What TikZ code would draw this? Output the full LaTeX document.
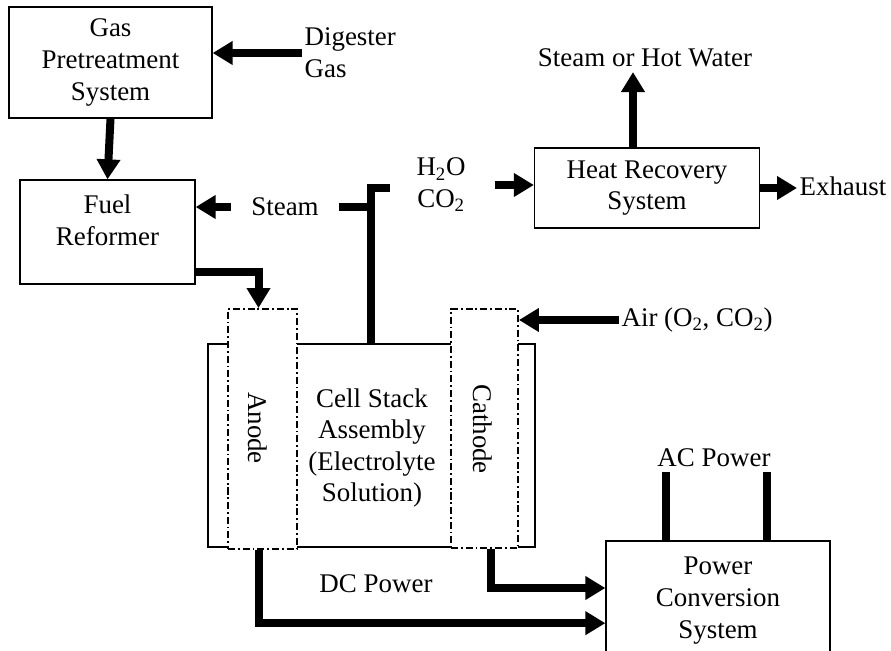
\documentclass[tikz,border=0pt]{standalone}
\usepackage{fontspec}
\setmainfont{Liberation Serif}
\usetikzlibrary{arrows.meta, positioning}

\begin{document}
\begin{tikzpicture}[
    x=0.03cm, y=-0.03cm,
    font=\fontsize{23}{27}\selectfont,
    unit/.style={rectangle, draw, line width=1.1pt, align=center, inner sep=0pt},
    electrode/.style={rectangle, draw, fill=white, line width=1.6pt, inner sep=0pt,
        dash pattern=on 6pt off 2.5pt on 1.5pt off 2.5pt},
    lbl/.style={inner sep=2pt, align=center},
    arrow/.style={-{Triangle[length=0.6cm, width=0.68cm]}, line width=0.24cm},
    pipe/.style={line width=0.22cm}
]
    \useasboundingbox (0,0) rectangle (891,651);

    % process units
    \node[unit, minimum width=6.09cm, minimum height=3.33cm] (gas) at (110.5,62.5) {Gas\\Pretreatment\\System};
    \node[unit, minimum width=5.25cm, minimum height=3.12cm] (reformer) at (107.5,232) {};
    \node[lbl] (reformertxt) at (107.5,220) {Fuel\\Reformer};
    \node[unit, minimum width=6.75cm, minimum height=2.4cm] (heat) at (647,188) {Heat Recovery\\System};
    \node[unit, minimum width=9.81cm, minimum height=6.09cm] (stack) at (371.5,445.5) {};
    \node[electrode, minimum width=2.07cm, minimum height=7.2cm] (anode) at (262.5,429) {};
    \node[electrode, minimum width=2.01cm, minimum height=7.17cm] (cathode) at (484.5,428.5) {};
    \node[unit, minimum width=6.72cm, minimum height=3.57cm] (power) at (718,600.5) {Power\\Conversion\\System};

    \node[lbl] (stacktxt) at (372,448) {Cell Stack\\Assembly\\(Electrolyte\\Solution)};
    \node[lbl, rotate=-90] (anodetxt) at (258,428) {Anode};
    \node[lbl, rotate=-90] (cathodetxt) at (483,429) {Cathode};

    % stream labels
    \node[lbl, anchor=west, align=left] (digester) at (302,53) {Digester\\Gas};
    \node[lbl, inner xsep=0.6cm] (steam) at (285,207) {Steam};
    \node[lbl, inner xsep=0.87cm] (h2o) at (441,185) {H\textsubscript{2}O\\CO\textsubscript{2}};
    \node[lbl, inner sep=4pt] (hotwater) at (645,58) {Steam or Hot Water};
    \node[lbl, anchor=west] (exhaust) at (797,186) {Exhaust};
    \node[lbl, anchor=west] (air) at (619,320) {Air (O\textsubscript{2}, CO\textsubscript{2})};
    \node[lbl, inner sep=4pt] (acpower) at (714,458) {AC Power};
    \node[lbl] (dcpower) at (376,584) {DC Power};

    \coordinate (tee) at (371,188);
    \coordinate (teeend) at (390,188);

    % gas side
    \draw[arrow] (digester.west) -- (digester.west -| gas.east);
    \draw[arrow] (gas.south) -- (reformer.north);
    \draw[arrow] (steam.west) -- (steam.west -| reformer.east);
    \draw[pipe] (steam.east) -- (steam.east -| tee);
    \draw[pipe] (tee |- stack.north) -- (tee) -- (teeend);
    \draw[arrow] ([yshift=-1.2cm]reformer.east) -| ([xshift=-0.12cm]anode.north);

    % heat recovery
    \draw[arrow] (h2o.east) -- (h2o.east -| heat.west);
    \draw[arrow] ([xshift=-0.42cm]heat.north) -- ([xshift=-0.42cm]heat.north |- hotwater.south);
    \draw[arrow] (heat.east) -- (heat.east -| exhaust.west);

    % air and power
    \draw[arrow] (air.west) -- (air.west -| cathode.east);
    \draw[arrow] ([xshift=-0.12cm]anode.south) |- ([yshift=-0.68cm]power.west);
    \draw[arrow] ([xshift=0.2cm]cathode.south) |- ([yshift=0.375cm]power.west);
    \draw[pipe] ([xshift=-1.56cm]power.north) -- ([xshift=-1.56cm]power.north |- acpower.south);
    \draw[pipe] ([xshift=1.47cm]power.north) -- ([xshift=1.47cm]power.north |- acpower.south);
\end{tikzpicture}
\end{document}
